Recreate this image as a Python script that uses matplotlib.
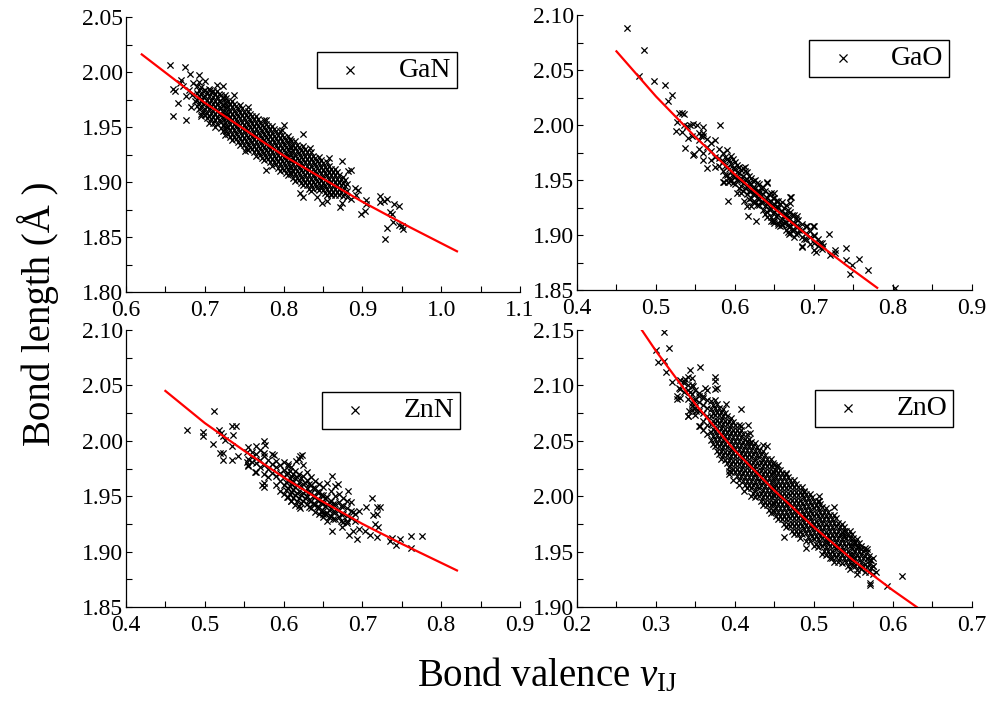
import matplotlib
matplotlib.use('Agg')
import matplotlib.pyplot as plt
from matplotlib.ticker import AutoMinorLocator, FormatStrFormatter, MultipleLocator

plt.rcParams['font.family'] = ['Liberation Serif', 'DejaVu Serif']
plt.rcParams['mathtext.fontset'] = 'custom'
plt.rcParams['mathtext.rm'] = 'Liberation Serif'
plt.rcParams['mathtext.it'] = 'Liberation Serif:italic'

# fitted curves
gan_fit_v = [0.62, 0.66, 0.70, 0.75, 0.80, 0.85, 0.90, 0.96, 1.02]
gan_fit_r = [2.016, 1.994, 1.972, 1.948, 1.924, 1.903, 1.882, 1.859, 1.837]
gao_fit_v = [0.45, 0.50, 0.55, 0.60, 0.65, 0.70, 0.74, 0.78]
gao_fit_r = [2.067, 2.026, 1.989, 1.955, 1.924, 1.895, 1.873, 1.852]
znn_fit_v = [0.45, 0.50, 0.55, 0.60, 0.65, 0.70, 0.75, 0.82]
znn_fit_r = [2.045, 2.016, 1.991, 1.967, 1.945, 1.925, 1.907, 1.883]
zno_fit_v = [0.282, 0.30, 0.35, 0.40, 0.45, 0.50, 0.55, 0.60, 0.63]
zno_fit_r = [2.150, 2.131, 2.083, 2.041, 2.005, 1.972, 1.942, 1.915, 1.900]

# dense cores: (valence, [bond lengths in that column])
gan_core = [
    (0.690, [1.987, 1.981, 1.975, 1.969]),
    (0.6925, [1.984, 1.978, 1.972, 1.966]),
    (0.695, [1.986, 1.980, 1.974, 1.968, 1.962]),
    (0.6975, [1.983, 1.977, 1.971, 1.965]),
    (0.700, [1.984, 1.978, 1.972, 1.966, 1.961]),
    (0.7025, [1.981, 1.975, 1.969, 1.963, 1.958]),
    (0.705, [1.985, 1.978, 1.972, 1.966, 1.960, 1.954]),
    (0.7075, [1.982, 1.975, 1.969, 1.963, 1.957]),
    (0.710, [1.983, 1.977, 1.971, 1.965, 1.959, 1.954]),
    (0.7125, [1.980, 1.974, 1.968, 1.962, 1.956, 1.950]),
    (0.715, [1.983, 1.977, 1.971, 1.965, 1.959, 1.953]),
    (0.7175, [1.980, 1.974, 1.968, 1.962, 1.956]),
    (0.720, [1.979, 1.973, 1.967, 1.961, 1.955, 1.949]),
    (0.7225, [1.976, 1.970, 1.964, 1.958, 1.952, 1.946]),
    (0.725, [1.979, 1.973, 1.967, 1.961, 1.955, 1.949, 1.943]),
    (0.7275, [1.976, 1.970, 1.964, 1.958, 1.952, 1.946]),
    (0.730, [1.974, 1.968, 1.962, 1.956, 1.950, 1.944]),
    (0.7325, [1.971, 1.965, 1.959, 1.953, 1.947, 1.941]),
    (0.735, [1.974, 1.968, 1.962, 1.956, 1.950, 1.944, 1.938]),
    (0.7375, [1.971, 1.965, 1.959, 1.953, 1.947, 1.941]),
    (0.740, [1.969, 1.963, 1.957, 1.951, 1.945, 1.939]),
    (0.7425, [1.966, 1.960, 1.954, 1.948, 1.942, 1.936]),
    (0.745, [1.970, 1.964, 1.958, 1.952, 1.946, 1.940, 1.934]),
    (0.7475, [1.967, 1.961, 1.955, 1.949, 1.943, 1.937]),
    (0.750, [1.964, 1.958, 1.952, 1.946, 1.940, 1.934]),
    (0.7525, [1.961, 1.955, 1.949, 1.943, 1.937, 1.931]),
    (0.755, [1.965, 1.959, 1.953, 1.947, 1.941, 1.935, 1.929]),
    (0.7575, [1.962, 1.956, 1.950, 1.944, 1.938, 1.932]),
    (0.760, [1.960, 1.954, 1.948, 1.942, 1.936, 1.930]),
    (0.7625, [1.957, 1.951, 1.945, 1.939, 1.933, 1.927]),
    (0.765, [1.960, 1.954, 1.948, 1.942, 1.936, 1.930, 1.924]),
    (0.7675, [1.957, 1.951, 1.945, 1.939, 1.933, 1.927]),
    (0.770, [1.955, 1.949, 1.943, 1.937, 1.931, 1.925]),
    (0.7725, [1.952, 1.946, 1.940, 1.934, 1.928, 1.922]),
    (0.775, [1.956, 1.950, 1.944, 1.938, 1.932, 1.926, 1.920]),
    (0.7775, [1.953, 1.947, 1.941, 1.935, 1.929, 1.923]),
    (0.780, [1.951, 1.945, 1.939, 1.933, 1.927, 1.921]),
    (0.7825, [1.948, 1.942, 1.936, 1.930, 1.924, 1.918]),
    (0.785, [1.951, 1.945, 1.939, 1.933, 1.927, 1.921, 1.915]),
    (0.7875, [1.948, 1.942, 1.936, 1.930, 1.924, 1.918]),
    (0.790, [1.946, 1.940, 1.934, 1.928, 1.922, 1.916]),
    (0.7925, [1.943, 1.937, 1.931, 1.925, 1.919, 1.913]),
    (0.795, [1.946, 1.940, 1.934, 1.928, 1.922, 1.916, 1.910]),
    (0.7975, [1.943, 1.937, 1.931, 1.925, 1.919, 1.913]),
    (0.800, [1.941, 1.935, 1.929, 1.923, 1.917, 1.911]),
    (0.8025, [1.938, 1.932, 1.926, 1.920, 1.914, 1.908]),
    (0.805, [1.942, 1.936, 1.930, 1.924, 1.918, 1.912, 1.906]),
    (0.8075, [1.939, 1.933, 1.927, 1.921, 1.915, 1.909]),
    (0.810, [1.937, 1.931, 1.925, 1.919, 1.913, 1.907]),
    (0.8125, [1.934, 1.928, 1.922, 1.916, 1.910, 1.904]),
    (0.815, [1.937, 1.931, 1.925, 1.919, 1.913, 1.907, 1.901]),
    (0.8175, [1.934, 1.928, 1.922, 1.916, 1.910, 1.904]),
    (0.820, [1.932, 1.926, 1.920, 1.914, 1.908, 1.902]),
    (0.8225, [1.929, 1.923, 1.917, 1.911, 1.905, 1.899]),
    (0.825, [1.933, 1.927, 1.921, 1.915, 1.909, 1.903, 1.897]),
    (0.8275, [1.930, 1.924, 1.918, 1.912, 1.906, 1.900]),
    (0.830, [1.927, 1.921, 1.915, 1.909, 1.903, 1.897]),
    (0.8325, [1.924, 1.918, 1.912, 1.906, 1.900, 1.894]),
    (0.835, [1.927, 1.921, 1.915, 1.909, 1.903, 1.897, 1.892]),
    (0.8375, [1.924, 1.918, 1.912, 1.906, 1.900, 1.894]),
    (0.840, [1.922, 1.916, 1.910, 1.904, 1.898]),
    (0.8425, [1.919, 1.913, 1.907, 1.901, 1.895]),
    (0.845, [1.923, 1.917, 1.911, 1.905, 1.899, 1.893]),
    (0.8475, [1.920, 1.914, 1.908, 1.902, 1.896]),
    (0.850, [1.917, 1.911, 1.905, 1.899, 1.893]),
    (0.8525, [1.914, 1.908, 1.902, 1.896, 1.890]),
    (0.855, [1.918, 1.912, 1.906, 1.900, 1.894, 1.888]),
    (0.8575, [1.915, 1.909, 1.903, 1.897, 1.891]),
    (0.860, [1.912, 1.906, 1.900, 1.894, 1.889]),
    (0.8625, [1.909, 1.903, 1.897, 1.891]),
    (0.865, [1.912, 1.906, 1.900, 1.894, 1.888]),
    (0.8675, [1.909, 1.903, 1.897, 1.891]),
    (0.870, [1.906, 1.900, 1.894, 1.888]),
    (0.8725, [1.903, 1.897, 1.891]),
    (0.875, [1.905, 1.899, 1.893, 1.887]),
    (0.8775, [1.902, 1.896, 1.890]),
    (0.880, [1.898, 1.892, 1.886]),
]
gan_scatter = [
    (0.656, 2.006), (0.675, 2.005), (0.681, 1.998), (0.693, 1.997), (0.660, 1.985),
    (0.662, 1.983), (0.666, 1.972), (0.660, 1.960), (0.676, 1.956), (0.693, 1.991),
    (0.723, 1.987), (0.737, 1.979), (0.706, 1.984), (0.695, 1.960), (0.755, 1.968),
    (0.778, 1.956), (0.800, 1.952), (0.798, 1.947), (0.751, 1.928), (0.778, 1.911),
    (0.833, 1.931), (0.858, 1.922), (0.874, 1.919), (0.882, 1.910), (0.886, 1.911),
    (0.821, 1.890), (0.825, 1.886), (0.842, 1.886), (0.849, 1.881), (0.855, 1.883),
    (0.871, 1.877), (0.874, 1.881), (0.895, 1.893), (0.892, 1.888), (0.898, 1.871),
    (0.903, 1.874), (0.904, 1.884), (0.905, 1.880), (0.922, 1.887), (0.931, 1.885),
    (0.922, 1.882), (0.928, 1.883), (0.940, 1.880), (0.947, 1.878), (0.935, 1.873),
    (0.937, 1.871), (0.939, 1.864), (0.950, 1.860), (0.946, 1.861), (0.952, 1.857),
    (0.931, 1.858), (0.929, 1.848), (0.847, 1.895), (0.824, 1.944), (0.670, 1.993),
    (0.685, 1.990), (0.700, 1.992), (0.715, 1.988), (0.890, 1.895), (0.885, 1.885),
    (0.860, 1.888), (0.668, 1.990), (0.672, 1.987), (0.680, 1.984), (0.684, 1.979),
    (0.688, 1.974), (0.676, 1.978), (0.682, 1.968),
]

gao_core = [
    (0.555, [1.993, 1.986, 1.978]),
    (0.560, [1.990, 1.975, 1.968]),
    (0.565, [1.987, 1.980, 1.961]),
    (0.570, [1.984, 1.976, 1.968]),
    (0.575, [1.986, 1.971, 1.962]),
    (0.580, [1.978, 1.970, 1.963]),
    (0.585, [1.975, 1.967, 1.958, 1.948]),
    (0.5875, [1.971, 1.963, 1.955]),
    (0.590, [1.977, 1.969, 1.962, 1.955]),
    (0.5925, [1.968, 1.960, 1.952]),
    (0.595, [1.972, 1.965, 1.957, 1.950]),
    (0.5975, [1.969, 1.961, 1.954, 1.947]),
    (0.600, [1.966, 1.960, 1.953, 1.946]),
    (0.6025, [1.964, 1.957, 1.950]),
    (0.605, [1.962, 1.956, 1.950, 1.943]),
    (0.6075, [1.959, 1.952, 1.945, 1.938]),
    (0.610, [1.961, 1.954, 1.947, 1.940]),
    (0.6125, [1.958, 1.950, 1.943]),
    (0.615, [1.957, 1.951, 1.944, 1.937]),
    (0.6175, [1.954, 1.947, 1.940, 1.933]),
    (0.620, [1.952, 1.946, 1.940, 1.934, 1.926]),
    (0.6225, [1.949, 1.943, 1.937, 1.930]),
    (0.625, [1.950, 1.943, 1.937, 1.930]),
    (0.6275, [1.947, 1.940, 1.934, 1.927]),
    (0.630, [1.946, 1.940, 1.933, 1.927]),
    (0.6325, [1.943, 1.936, 1.930]),
    (0.635, [1.944, 1.937, 1.930, 1.923]),
    (0.6375, [1.940, 1.933, 1.926, 1.919]),
    (0.640, [1.948, 1.934, 1.928, 1.921]),
    (0.6425, [1.937, 1.930, 1.924]),
    (0.645, [1.938, 1.931, 1.924, 1.916]),
    (0.6475, [1.934, 1.927, 1.920, 1.913]),
    (0.650, [1.934, 1.928, 1.921, 1.913]),
    (0.6525, [1.931, 1.924, 1.917]),
    (0.655, [1.931, 1.925, 1.918, 1.911]),
    (0.6575, [1.928, 1.921, 1.914, 1.908]),
    (0.660, [1.930, 1.922, 1.915, 1.909]),
    (0.6625, [1.925, 1.918, 1.911]),
    (0.665, [1.927, 1.919, 1.912, 1.905]),
    (0.6675, [1.923, 1.916, 1.909, 1.903]),
    (0.670, [1.935, 1.921, 1.915, 1.908, 1.902]),
    (0.6725, [1.918, 1.911, 1.905]),
    (0.675, [1.918, 1.911, 1.905, 1.898]),
    (0.6775, [1.915, 1.908, 1.901]),
    (0.680, [1.914, 1.908, 1.902]),
    (0.685, [1.910, 1.905, 1.898, 1.890]),
    (0.690, [1.908, 1.902, 1.896]),
    (0.695, [1.904, 1.898, 1.892]),
    (0.700, [1.908, 1.900, 1.893, 1.886]),
    (0.705, [1.896, 1.890]),
    (0.710, [1.893, 1.887]),
]
gao_scatter = [
    (0.463, 2.088), (0.485, 2.068), (0.478, 2.045), (0.497, 2.040), (0.511, 2.036),
    (0.520, 2.027), (0.515, 2.022), (0.529, 2.011), (0.533, 2.011), (0.535, 2.010),
    (0.527, 2.003), (0.525, 1.995), (0.533, 1.994), (0.535, 2.000), (0.539, 1.999),
    (0.543, 2.000), (0.547, 2.001), (0.552, 2.000), (0.537, 1.979), (0.547, 1.973),
    (0.548, 1.974), (0.560, 1.998), (0.559, 1.993), (0.557, 1.990), (0.581, 2.000),
    (0.591, 1.931), (0.540, 1.988), (0.545, 1.990), (0.586, 1.948), (0.591, 1.948),
    (0.594, 1.949), (0.613, 1.962), (0.603, 1.938), (0.611, 1.931), (0.615, 1.926),
    (0.617, 1.917), (0.627, 1.913), (0.630, 1.938), (0.640, 1.947), (0.649, 1.938),
    (0.653, 1.926), (0.664, 1.917), (0.668, 1.907), (0.668, 1.901), (0.670, 1.929),
    (0.671, 1.935), (0.678, 1.917), (0.681, 1.905), (0.687, 1.896), (0.685, 1.889),
    (0.691, 1.908), (0.699, 1.908), (0.700, 1.899), (0.703, 1.885), (0.708, 1.893),
    (0.712, 1.890), (0.719, 1.901), (0.720, 1.882), (0.726, 1.886), (0.727, 1.884),
    (0.741, 1.888), (0.741, 1.877), (0.746, 1.865), (0.748, 1.873), (0.757, 1.878),
    (0.769, 1.868), (0.803, 1.852), (0.650, 1.911), (0.655, 1.909), (0.660, 1.910),
    (0.645, 1.913), (0.640, 1.916),
]

znn_core = [
    (0.555, [1.994, 1.984, 1.978]),
    (0.560, [1.990, 1.981]),
    (0.565, [1.988, 1.980, 1.972]),
    (0.570, [1.992, 1.983, 1.976]),
    (0.575, [1.986, 1.978, 1.970, 1.962]),
    (0.580, [1.983, 1.975, 1.967]),
    (0.585, [1.988, 1.979, 1.971]),
    (0.590, [1.982, 1.976, 1.968, 1.960]),
    (0.595, [1.978, 1.971, 1.964, 1.955]),
    (0.600, [1.981, 1.974, 1.967, 1.960, 1.952]),
    (0.6025, [1.970, 1.963, 1.956]),
    (0.605, [1.977, 1.971, 1.964, 1.957, 1.949]),
    (0.6075, [1.973, 1.966, 1.959, 1.952]),
    (0.610, [1.976, 1.968, 1.961, 1.954, 1.946]),
    (0.6125, [1.970, 1.963, 1.956, 1.948]),
    (0.615, [1.973, 1.966, 1.958, 1.951]),
    (0.6175, [1.967, 1.960, 1.953, 1.946]),
    (0.620, [1.984, 1.970, 1.963, 1.955, 1.948, 1.941]),
    (0.6225, [1.966, 1.959, 1.951, 1.944]),
    (0.625, [1.978, 1.968, 1.961, 1.953, 1.946]),
    (0.6275, [1.962, 1.955, 1.948]),
    (0.630, [1.972, 1.965, 1.957, 1.950, 1.943]),
    (0.6325, [1.961, 1.954, 1.947, 1.940]),
    (0.635, [1.967, 1.960, 1.953, 1.946, 1.939]),
    (0.6375, [1.957, 1.950, 1.943]),
    (0.640, [1.964, 1.957, 1.950, 1.943, 1.936]),
    (0.6425, [1.954, 1.947, 1.940]),
    (0.645, [1.961, 1.954, 1.947, 1.940, 1.934]),
    (0.6475, [1.951, 1.944, 1.937]),
    (0.650, [1.958, 1.951, 1.944, 1.937, 1.931]),
    (0.6525, [1.948, 1.941, 1.934]),
    (0.655, [1.962, 1.949, 1.942, 1.935, 1.928]),
    (0.6575, [1.945, 1.938, 1.931]),
    (0.660, [1.955, 1.946, 1.939, 1.932]),
    (0.6625, [1.943, 1.936, 1.929]),
    (0.665, [1.959, 1.950, 1.943, 1.936, 1.929]),
    (0.670, [1.952, 1.945, 1.938, 1.931]),
    (0.6725, [1.941, 1.934, 1.928]),
    (0.675, [1.948, 1.941, 1.934, 1.927]),
    (0.680, [1.946, 1.939, 1.932, 1.926]),
    (0.685, [1.945, 1.937, 1.930]),
    (0.690, [1.934, 1.928]),
]
znn_scatter = [
    (0.477, 2.010), (0.498, 2.008), (0.498, 2.004), (0.512, 2.027), (0.511, 1.997),
    (0.518, 2.010), (0.521, 2.007), (0.523, 2.004), (0.526, 2.001), (0.519, 1.989),
    (0.523, 1.989), (0.523, 1.983), (0.534, 2.013), (0.540, 2.013), (0.536, 2.005),
    (0.534, 1.995), (0.534, 1.983), (0.542, 1.986), (0.553, 1.990), (0.553, 1.981),
    (0.555, 1.977), (0.560, 1.985), (0.564, 1.972), (0.565, 1.995), (0.575, 2.000),
    (0.576, 1.996), (0.575, 1.989), (0.575, 1.958), (0.572, 1.960), (0.588, 1.987),
    (0.604, 1.949), (0.610, 1.946), (0.614, 1.942), (0.621, 1.939), (0.650, 1.934),
    (0.661, 1.968), (0.669, 1.961), (0.682, 1.955), (0.680, 1.928), (0.661, 1.919),
    (0.674, 1.922), (0.688, 1.936), (0.696, 1.937), (0.704, 1.940), (0.712, 1.948),
    (0.718, 1.940), (0.722, 1.940), (0.718, 1.934), (0.713, 1.933), (0.716, 1.925),
    (0.720, 1.922), (0.688, 1.919), (0.696, 1.920), (0.703, 1.919), (0.683, 1.915),
    (0.693, 1.911), (0.710, 1.915), (0.718, 1.913), (0.735, 1.910), (0.737, 1.912),
    (0.742, 1.906), (0.748, 1.911), (0.762, 1.903), (0.762, 1.914), (0.775, 1.914),
    (0.606, 1.979), (0.616, 1.982), (0.621, 1.986), (0.623, 1.987),
]

zno_core = [
    (0.330, [2.105, 2.097, 2.089]),
    (0.335, [2.102, 2.094]),
    (0.340, [2.108, 2.096, 2.088, 2.072]),
    (0.345, [2.100, 2.092, 2.084, 2.078]),
    (0.350, [2.096, 2.088, 2.080, 2.073]),
    (0.355, [2.093, 2.085, 2.077, 2.063]),
    (0.360, [2.090, 2.082, 2.075, 2.068, 2.060]),
    (0.365, [2.087, 2.080, 2.072, 2.064, 2.056]),
    (0.370, [2.086, 2.079, 2.072, 2.065, 2.058, 2.051]),
    (0.3725, [2.082, 2.075, 2.068, 2.061, 2.054, 2.047]),
    (0.375, [2.087, 2.080, 2.073, 2.066, 2.059, 2.052, 2.045]),
    (0.3775, [2.083, 2.076, 2.069, 2.062, 2.055, 2.048, 2.041]),
    (0.380, [2.080, 2.073, 2.066, 2.059, 2.052, 2.045, 2.038]),
    (0.3825, [2.076, 2.069, 2.062, 2.055, 2.048, 2.041, 2.034]),
    (0.385, [2.079, 2.072, 2.065, 2.058, 2.051, 2.044, 2.037]),
    (0.3875, [2.075, 2.068, 2.061, 2.054, 2.047, 2.040, 2.033]),
    (0.390, [2.072, 2.065, 2.058, 2.051, 2.044, 2.037, 2.030]),
    (0.3925, [2.068, 2.061, 2.054, 2.047, 2.040, 2.033, 2.026]),
    (0.395, [2.071, 2.064, 2.057, 2.050, 2.043, 2.036, 2.029, 2.022]),
    (0.3975, [2.067, 2.060, 2.053, 2.046, 2.039, 2.032, 2.025]),
    (0.400, [2.064, 2.057, 2.050, 2.043, 2.036, 2.029, 2.022]),
    (0.4025, [2.060, 2.053, 2.046, 2.039, 2.032, 2.025, 2.018]),
    (0.405, [2.064, 2.057, 2.050, 2.043, 2.036, 2.029, 2.022, 2.015]),
    (0.4075, [2.060, 2.053, 2.046, 2.039, 2.032, 2.025, 2.018]),
    (0.410, [2.056, 2.049, 2.042, 2.035, 2.028, 2.021, 2.014]),
    (0.4125, [2.052, 2.045, 2.038, 2.031, 2.024, 2.017, 2.010]),
    (0.415, [2.056, 2.049, 2.042, 2.035, 2.028, 2.021, 2.014, 2.007]),
    (0.4175, [2.052, 2.045, 2.038, 2.031, 2.024, 2.017, 2.010]),
    (0.420, [2.049, 2.042, 2.035, 2.028, 2.021, 2.014, 2.007]),
    (0.4225, [2.045, 2.038, 2.031, 2.024, 2.017, 2.010, 2.003]),
    (0.425, [2.048, 2.041, 2.034, 2.027, 2.020, 2.013, 2.006, 1.999]),
    (0.4275, [2.044, 2.037, 2.030, 2.023, 2.016, 2.009, 2.002]),
    (0.430, [2.042, 2.035, 2.028, 2.021, 2.014, 2.007, 2.000]),
    (0.4325, [2.038, 2.031, 2.024, 2.017, 2.010, 2.003, 1.996]),
    (0.435, [2.041, 2.034, 2.027, 2.020, 2.013, 2.006, 1.999, 1.992]),
    (0.4375, [2.037, 2.030, 2.023, 2.016, 2.009, 2.002, 1.995]),
    (0.440, [2.034, 2.027, 2.020, 2.013, 2.006, 1.999, 1.992]),
    (0.4425, [2.030, 2.023, 2.016, 2.009, 2.002, 1.995, 1.988]),
    (0.445, [2.034, 2.027, 2.020, 2.013, 2.006, 1.999, 1.992, 1.985]),
    (0.4475, [2.030, 2.023, 2.016, 2.009, 2.002, 1.995, 1.988]),
    (0.450, [2.028, 2.021, 2.014, 2.007, 2.000, 1.993, 1.986]),
    (0.4525, [2.024, 2.017, 2.010, 2.003, 1.996, 1.989, 1.982]),
    (0.455, [2.028, 2.021, 2.014, 2.007, 2.000, 1.993, 1.986, 1.979]),
    (0.4575, [2.024, 2.017, 2.010, 2.003, 1.996, 1.989, 1.982]),
    (0.460, [2.021, 2.014, 2.007, 2.000, 1.993, 1.986, 1.979]),
    (0.4625, [2.017, 2.010, 2.003, 1.996, 1.989, 1.982, 1.975]),
    (0.465, [2.021, 2.014, 2.007, 2.000, 1.993, 1.986, 1.979, 1.972]),
    (0.4675, [2.017, 2.010, 2.003, 1.996, 1.989, 1.982, 1.975]),
    (0.470, [2.015, 2.008, 2.001, 1.994, 1.987, 1.980, 1.973]),
    (0.4725, [2.011, 2.004, 1.997, 1.990, 1.983, 1.976, 1.969]),
    (0.475, [2.015, 2.008, 2.001, 1.994, 1.987, 1.980, 1.973, 1.966]),
    (0.4775, [2.011, 2.004, 1.997, 1.990, 1.983, 1.976, 1.969]),
    (0.480, [2.008, 2.001, 1.994, 1.987, 1.980, 1.973, 1.966]),
    (0.4825, [2.004, 1.997, 1.990, 1.983, 1.976, 1.969, 1.962]),
    (0.485, [2.008, 2.001, 1.994, 1.987, 1.980, 1.973, 1.966]),
    (0.4875, [2.005, 1.998, 1.991, 1.984, 1.977, 1.970]),
    (0.490, [2.002, 1.995, 1.988, 1.981, 1.974, 1.967, 1.960]),
    (0.4925, [1.998, 1.991, 1.984, 1.977, 1.970, 1.963]),
    (0.495, [2.002, 1.995, 1.988, 1.981, 1.974, 1.967, 1.960]),
    (0.4975, [1.999, 1.992, 1.985, 1.978, 1.971, 1.964]),
    (0.500, [1.996, 1.989, 1.982, 1.975, 1.968, 1.961]),
    (0.5025, [1.992, 1.985, 1.978, 1.971, 1.964, 1.957]),
    (0.505, [1.996, 1.989, 1.982, 1.975, 1.968, 1.961, 1.954]),
    (0.5075, [1.993, 1.986, 1.979, 1.972, 1.965, 1.958]),
    (0.510, [1.990, 1.983, 1.976, 1.969, 1.962, 1.955]),
    (0.5125, [1.986, 1.979, 1.972, 1.965, 1.958, 1.951]),
    (0.515, [1.989, 1.982, 1.975, 1.968, 1.961, 1.954, 1.947]),
    (0.5175, [1.986, 1.979, 1.972, 1.965, 1.958, 1.951]),
    (0.520, [1.983, 1.976, 1.969, 1.962, 1.955, 1.948]),
    (0.5225, [1.979, 1.972, 1.965, 1.958, 1.951, 1.944]),
    (0.525, [1.983, 1.976, 1.969, 1.962, 1.955, 1.948, 1.941]),
    (0.5275, [1.980, 1.973, 1.966, 1.959, 1.952, 1.945]),
    (0.530, [1.976, 1.969, 1.962, 1.955, 1.948, 1.941]),
    (0.5325, [1.972, 1.965, 1.958, 1.951, 1.944]),
    (0.535, [1.975, 1.968, 1.961, 1.954, 1.947, 1.940]),
    (0.5375, [1.972, 1.965, 1.958, 1.951, 1.944]),
    (0.540, [1.969, 1.962, 1.955, 1.948, 1.941]),
    (0.5425, [1.965, 1.958, 1.951, 1.944, 1.937]),
    (0.545, [1.969, 1.962, 1.955, 1.948, 1.941, 1.934]),
    (0.5475, [1.966, 1.959, 1.952, 1.945, 1.938]),
    (0.550, [1.962, 1.955, 1.948, 1.941]),
    (0.5525, [1.958, 1.951, 1.944, 1.937]),
    (0.555, [1.961, 1.954, 1.947, 1.940, 1.933]),
    (0.5575, [1.958, 1.951, 1.944, 1.937]),
    (0.560, [1.955, 1.948, 1.941, 1.934]),
    (0.5625, [1.951, 1.944, 1.937]),
    (0.565, [1.953, 1.946, 1.939, 1.932]),
    (0.5675, [1.950, 1.943, 1.936]),
    (0.570, [1.946, 1.939, 1.932]),
    (0.5725, [1.942, 1.935]),
    (0.575, [1.944, 1.937, 1.930]),
]
zno_scatter = [
    (0.310, 2.148), (0.300, 2.132), (0.302, 2.121), (0.310, 2.122), (0.317, 2.134),
    (0.313, 2.112), (0.320, 2.103), (0.329, 2.098), (0.335, 2.104), (0.337, 2.106),
    (0.343, 2.114), (0.346, 2.107), (0.356, 2.117), (0.347, 2.099), (0.340, 2.100),
    (0.327, 2.090), (0.326, 2.088), (0.343, 2.094), (0.348, 2.087), (0.346, 2.081),
    (0.340, 2.072), (0.342, 2.077), (0.351, 2.077), (0.354, 2.090), (0.360, 2.089),
    (0.362, 2.098), (0.364, 2.096), (0.375, 2.108), (0.375, 2.104), (0.377, 2.098),
    (0.375, 2.097), (0.356, 2.063), (0.388, 2.083), (0.407, 2.079), (0.407, 2.063),
    (0.417, 2.064), (0.419, 2.057), (0.392, 2.023), (0.419, 2.048), (0.436, 2.046),
    (0.441, 2.045), (0.453, 2.027), (0.464, 2.020), (0.487, 2.004), (0.506, 2.000),
    (0.506, 1.996), (0.525, 1.990), (0.462, 1.963), (0.516, 1.959), (0.538, 1.969),
    (0.538, 1.963), (0.552, 1.959), (0.556, 1.954), (0.560, 1.952), (0.567, 1.952),
    (0.571, 1.942), (0.575, 1.937), (0.578, 1.932), (0.554, 1.930), (0.571, 1.922),
    (0.571, 1.920), (0.592, 1.919), (0.611, 1.928), (0.420, 2.000), (0.412, 2.005),
    (0.405, 2.010), (0.398, 2.015), (0.393, 2.020), (0.520, 1.944), (0.510, 1.948),
    (0.500, 1.955), (0.490, 1.953),
]


def points(core, scatter):
    v = [c[0] for c in core for r in c[1]] + [p[0] for p in scatter]
    r = [x for c in core for x in c[1]] + [p[1] for p in scatter]
    return v, r


fig = plt.figure(figsize=(9.89, 7.06), dpi=100)

panels = [
    ([0.1274, 0.5864, 0.3984, 0.3895], 'GaN', gan_core, gan_scatter, gan_fit_v, gan_fit_r,
     (0.6, 1.1), (1.80, 2.05), (0.84, 0.873)),
    ([0.5834, 0.5892, 0.3994, 0.3895], 'GaO', gao_core, gao_scatter, gao_fit_v, gao_fit_r,
     (0.4, 0.9), (1.85, 2.10), (0.942, 0.909)),
    ([0.1274, 0.1402, 0.3984, 0.3924], 'ZnN', znn_core, znn_scatter, znn_fit_v, znn_fit_r,
     (0.4, 0.9), (1.85, 2.10), (0.848, 0.776)),
    ([0.5834, 0.1402, 0.3994, 0.3924], 'ZnO', zno_core, zno_scatter, zno_fit_v, zno_fit_r,
     (0.2, 0.7), (1.90, 2.15), (0.952, 0.783)),
]

for rect, name, core, scatter, fit_v, fit_r, xlim, ylim, anchor in panels:
    ax = fig.add_axes(rect)
    v, r = points(core, scatter)
    sc = ax.scatter(v, r, marker='x', s=20, c='k', linewidths=0.9, label=name, zorder=2)
    ax.plot(fit_v, fit_r, c='red', lw=1.6, zorder=3)
    ax.set_xlim(*xlim)
    ax.set_ylim(*ylim)
    ax.xaxis.set_major_locator(MultipleLocator(0.1))
    ax.yaxis.set_major_locator(MultipleLocator(0.05))
    ax.xaxis.set_minor_locator(AutoMinorLocator(2))
    ax.yaxis.set_minor_locator(AutoMinorLocator(2))
    ax.xaxis.set_major_formatter(FormatStrFormatter('%.1f'))
    ax.yaxis.set_major_formatter(FormatStrFormatter('%.2f'))
    ax.spines['top'].set_visible(False)
    ax.spines['right'].set_visible(False)
    for s in ('left', 'bottom'):
        ax.spines[s].set_linewidth(0.9)
    ax.tick_params(which='both', direction='in', length=4, width=0.8, labelsize=17)
    ax.tick_params(axis='x', pad=6)
    ax.tick_params(axis='y', pad=2)
    leg = ax.legend(handles=[sc], loc='upper right', bbox_to_anchor=anchor, borderaxespad=0,
                    fontsize=20, scatterpoints=1, markerscale=1.3, fancybox=False,
                    framealpha=1, edgecolor='k', borderpad=0.2, handlelength=2.0,
                    handletextpad=0.75)
    leg.get_frame().set_linewidth(1.0)

fig.text(0.553, 0.042, r'Bond valence $v_{\rm IJ}$', fontsize=28, ha='center', va='center')
fig.text(0.038, 0.556, 'Bond length (Å )', fontsize=28, ha='center', va='center', rotation=90)

fig.savefig('out.png', dpi=100)
